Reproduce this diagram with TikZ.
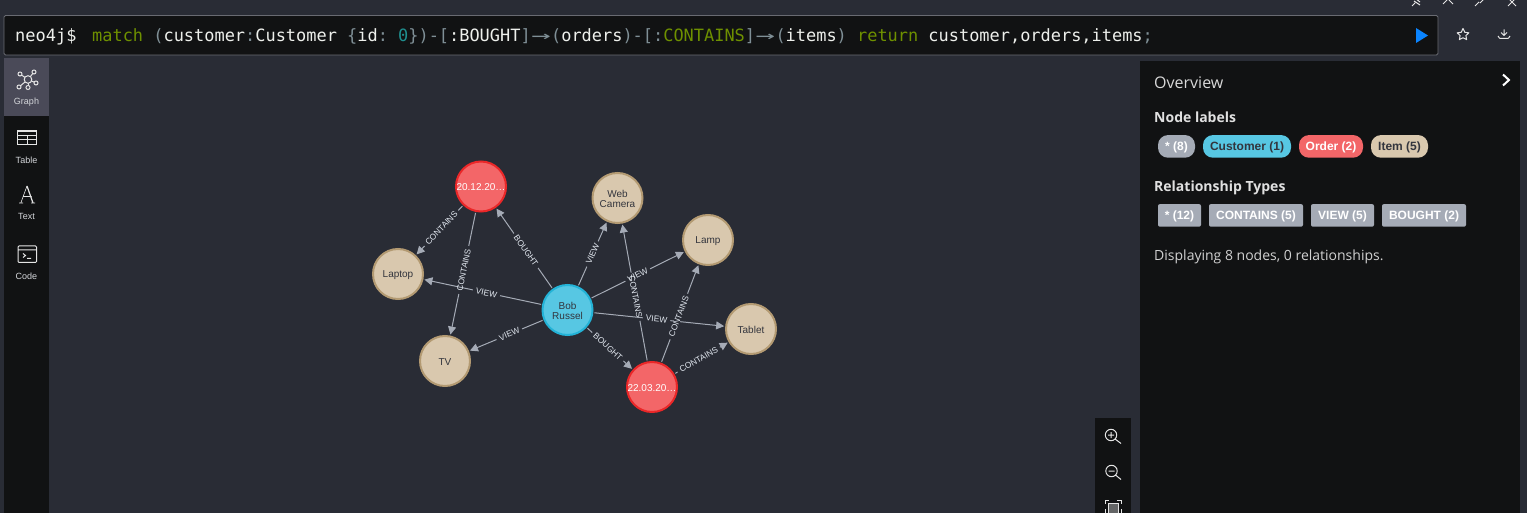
\documentclass[tikz,border=0pt]{standalone}
\usepackage{fontspec}
\setmainfont{Liberation Sans}
\newfontfamily\opensans{Open Sans}
\newfontfamily\qmono{DejaVu Sans Mono}
\usetikzlibrary{arrows.meta,calc}
\definecolor{bgc}{HTML}{292C35}
\definecolor{panel}{HTML}{111213}
\definecolor{edgec}{HTML}{A5ABB6}
\definecolor{labc}{HTML}{E2E8F0}
\definecolor{itemf}{HTML}{D9C8AE}
\definecolor{items}{HTML}{B39A72}
\definecolor{custf}{HTML}{57C7E3}
\definecolor{custs}{HTML}{23B3D7}
\definecolor{ordf}{HTML}{F36668}
\definecolor{ords}{HTML}{EB2728}
\definecolor{ink}{HTML}{33353D}
\definecolor{qgreen}{HTML}{6E9000}
\definecolor{qgrey}{HTML}{7F8F96}
\definecolor{qteal}{HTML}{1F8F8F}
\definecolor{qwhite}{HTML}{EEF0EC}
\definecolor{btn}{HTML}{4A4A58}
\definecolor{tagg}{HTML}{A5ABB6}
\definecolor{side}{HTML}{D4D6DA}
\newcommand{\qarrow}{\makebox[2\fontcharwd\font`m][c]{\scalebox{1.9}[1]{→}}}
\newcommand{\lift}[2][1.3pt]{\raisebox{-#1}[\height][\depth]{#2}}
\tikzset{
  gnode/.style={circle,minimum size=50pt,inner sep=0pt,outer sep=0pt,line width=2pt,draw,font=\fontsize{10}{10}\selectfont,align=center},
  itemnode/.style={gnode,fill=itemf,draw=items,text=ink},
  custnode/.style={gnode,fill=custf,draw=custs,text=ink},
  ordnode/.style={gnode,fill=ordf,draw=ords,text=white},
  rel/.style={draw=edgec,line width=1pt,-{Triangle[length=8pt,width=8pt]},shorten >=2pt,shorten <=2pt},
  relgap/.style={sloped,fill=bgc,inner xsep=3pt,inner ysep=0pt,font=\fontsize{8.4}{8.4}\selectfont},
  rellab/.style={sloped,text=labc,inner sep=0pt,font=\fontsize{8.4}{8.4}\selectfont},
  sidelab/.style={text=side,font=\fontsize{9}{9}\selectfont},
  ico/.style={draw=white!90!black,line width=1pt,fill=none},
  pill/.style={rounded corners=10pt,minimum height=22.7pt,inner sep=0pt,font=\fontsize{12}{12}\bfseries\selectfont},
  tag/.style={rounded corners=2pt,fill=tagg,text=white,minimum height=22.7pt,inner sep=0pt,font=\fontsize{12}{12}\bfseries\selectfont},
  head/.style={anchor=base west,inner sep=0pt,text=white!88!black,font=\opensans\fontsize{14}{14}\bfseries\selectfont},
}
\begin{document}
\begin{tikzpicture}[x=1pt,y=-1pt]
\useasboundingbox (0,0) rectangle (1527,513);
\fill[bgc] (0,0) rectangle (1527,513);
% query bar
\path[fill=panel,draw=bgc!70!white,line width=0.8pt,rounded corners=1.5pt] (4,15.5) rectangle (1438,55);
\node[anchor=base west,inner sep=0pt,text=qwhite,font=\qmono\fontsize{17}{17}\selectfont] (prompt) at (15,42) {neo4j\$};
\node[anchor=base west,inner sep=0pt,text=qwhite,font=\qmono\fontsize{16.94}{17}\selectfont] (query) at (92,42) {\frenchspacing\textcolor{qgreen}{match} \textcolor{qgrey}{(}customer\textcolor{qgrey}{:}Customer \textcolor{qgrey}{\{}id\textcolor{qgrey}{:} \textcolor{qteal}{0}\textcolor{qgrey}{\})-[}:BOUGHT\textcolor{qgrey}{]\qarrow(}orders\textcolor{qgrey}{)-[:}\textcolor{qgreen}{CONTAINS}\textcolor{qgrey}{]\qarrow(}items\textcolor{qgrey}{)} \textcolor{qgreen}{return} customer,orders,items\textcolor{qgrey}{;}};
\fill[fill={rgb,255:red,10;green,132;blue,255}] (1416,28) -- (1428,35.5) -- (1416,43) -- cycle;
% star + download
\draw[ico,line join=round] (1463,28.5) -- (1464.8,32.3) -- (1468.8,32.8) -- (1465.9,35.6) -- (1466.6,39.6) -- (1463,37.7) -- (1459.4,39.6) -- (1460.1,35.6) -- (1457.2,32.8) -- (1461.2,32.3) -- cycle;
\draw[ico] (1504,29.5) -- (1504,35) (1501,32.5) -- (1504,35.5) -- (1507,32.5) (1498,36) .. controls (1498,38.5) and (1500,38.5) .. (1504,38.5) .. controls (1508,38.5) and (1510,38.5) .. (1510,36);
% top window icons
\draw[ico] (1412,6) -- (1415,3) (1414,1) -- (1420,5) (1416,-1) -- (1420,2);
\draw[ico] (1443,4) -- (1448,-1) -- (1453,4);
\draw[ico] (1475,6) -- (1479,2) (1480,3) -- (1484,-1);
\draw[ico] (1508,6) -- (1516,-2) (1508,-2) -- (1516,6);
% sidebar
\fill[panel] (4,58) rectangle (49,513);
\fill[btn] (4,58) rectangle (49,116);
\coordinate (gc) at (28,79.5);
\foreach \px/\py in {20/74,34/72,19/87,28/87.5,36/83}{
  \draw[ico] (gc) -- (\px,\py);
  \draw[ico,fill=btn] (\px,\py) circle (2);
}
\draw[ico,fill=btn] (gc) circle (3.8);
\node[sidelab] (lgraph) at (26.5,102.5) {Graph};
\draw[ico] (17.5,131) rectangle (36.5,145) (17.5,135.5) -- (36.5,135.5) (17.5,140) -- (36.5,140) (27,135.5) -- (27,145);
\draw[ico,line width=1.4pt] (17.5,131) -- (36.5,131);
\node[sidelab] (ltable) at (26.5,160) {Table};
\draw[white!90!black,line width=0.6pt] (20.8,203) -- (27,186) (23,196.5) -- (31.5,196.5) (19,203) -- (23,203) (31,203) -- (35,203);
\draw[white!90!black,line width=1.2pt] (27,186) -- (33,203);
\node[sidelab] (ltext) at (26.5,216) {Text};
\draw[ico,rounded corners=1pt] (18,246) rectangle (36.5,262.5) (18,250) -- (36.5,250);
\draw[ico] (23,253.5) -- (25.5,255.5) -- (23,257.5) (27,258.5) -- (31,258.5);
\node[sidelab] (lcode) at (26.5,276) {Code};
% right panel
\fill[panel] (1140,61) rectangle (1520,513);
\node[anchor=base west,inner sep=0pt,text=white!85!black,font=\opensans\fontsize{16}{16}\selectfont] (ov) at (1154,89) {Overview};
\draw[draw=white,line width=2pt] (1503,74.5) -- (1509,80) -- (1503,85.5);
\node[head] (nl) at (1154,123) {Node labels};
\node[pill,fill=tagg,text=white,minimum width=37pt] (p1) at (1176.5,146.4) {\lift[0.8pt]{* (8)}};
\node[pill,fill=custf,text=ink,minimum width=88pt] (p2) at (1247,146.4) {\lift[0.8pt]{Customer (1)}};
\node[pill,fill=ordf,text=white,minimum width=64pt] (p3) at (1331,146.4) {\lift[0.8pt]{Order (2)}};
\node[pill,fill=itemf,text=ink,minimum width=57pt] (p4) at (1399.5,146.4) {\lift[0.8pt]{Item (5)}};
\node[head] (rt) at (1154,192) {Relationship Types};
\node[tag,minimum width=43pt] (t1) at (1179.5,215.4) {\lift[0.8pt]{* (12)}};
\node[tag,minimum width=94pt] (t2) at (1256,215.4) {\lift[0.8pt]{CONTAINS (5)}};
\node[tag,minimum width=63pt] (t3) at (1342.5,215.4) {\lift[0.8pt]{VIEW (5)}};
\node[tag,minimum width=84pt] (t4) at (1424,215.4) {\lift[0.8pt]{BOUGHT (2)}};
\node[anchor=base west,inner sep=0pt,text=white!82!black,font=\opensans\fontsize{14}{14}\selectfont] (disp) at (1154,261) {Displaying 8 nodes, 0 relationships.};
% zoom toolbar
\fill[panel] (1095,418) rectangle (1131,513);
\draw[ico] (1111,435) circle (5.7) (1115,439) -- (1121,443.5) (1108,435) -- (1114,435) (1111,432) -- (1111,438);
\draw[ico] (1111.5,471) circle (5.7) (1115.5,475) -- (1121,479.5) (1108.5,471) -- (1114.5,471);
\draw[ico] (1105,504) -- (1105,500) -- (1109,500) (1117,500) -- (1121,500) -- (1121,504) (1105,509) -- (1105,514) (1121,509) -- (1121,514);
\draw[ico,fill=white!35!panel] (1108,503) rectangle (1118,515);
% graph nodes
\node[ordnode] (o1) at (481,186.5) {\lift[0.8pt]{20.12.20…}};
\node[itemnode] (web) at (617.5,198) {\lift[0.8pt]{Web}\\\lift[0.8pt]{Camera}};
\node[itemnode] (lamp) at (708,240) {\lift{Lamp}};
\node[itemnode] (lap) at (398,274) {\lift{Laptop}};
\node[custnode] (bob) at (567.5,310) {\lift[0.5pt]{Bob}\\\lift[0.5pt]{Russel}};
\node[itemnode] (tab) at (751,329) {\lift{Tablet}};
\node[itemnode] (tv) at (445,361) {\lift{TV}};
\node[ordnode] (o2) at (652,387) {\lift[0.8pt]{22.03.20…}};
% relationships: line with gap
\draw[rel] (o1) -- node[relgap,pos=.46] (g1) {\phantom{CONTAINS}} (lap);
\draw[rel] (o1) -- node[relgap,pos=.47] (g2) {\phantom{CONTAINS}} (tv);
\draw[rel] (bob) -- node[relgap,pos=.47] (g3) {\phantom{BOUGHT}} (o1);
\draw[rel] (bob) -- node[relgap,pos=.47] (g4) {\phantom{VIEW}} (lap);
\draw[rel] (bob) -- node[relgap,pos=.46] (g5) {\phantom{VIEW}} (tv);
\draw[rel] (bob) -- node[relgap,pos=.5] (g6) {\phantom{VIEW}} (web);
\draw[rel] (bob) -- node[relgap,pos=.5] (g7) {\phantom{VIEW}} (lamp);
\draw[rel] (o2) -- node[relgap,pos=.47] (g8) {\phantom{CONTAINS}} (web);
\draw[rel] (bob) -- node[relgap,pos=.48] (g9) {\phantom{VIEW}} (tab);
\draw[rel] (bob) -- node[relgap,pos=.46] (g10) {\phantom{BOUGHT}} (o2);
\draw[rel] (o2) -- node[relgap,pos=.47] (g11) {\phantom{CONTAINS}} (lamp);
\draw[rel] (o2) -- node[relgap,pos=.45] (g12) {\phantom{CONTAINS}} (tab);
% relationship labels
\path (o1) -- node[rellab,pos=.46] (l1) {CONTAINS} (lap);
\path (o1) -- node[rellab,pos=.47] (l2) {CONTAINS} (tv);
\path (bob) -- node[rellab,pos=.47] (l3) {BOUGHT} (o1);
\path (bob) -- node[rellab,pos=.47] (l4) {VIEW} (lap);
\path (bob) -- node[rellab,pos=.46] (l5) {VIEW} (tv);
\path (bob) -- node[rellab,pos=.5] (l6) {VIEW} (web);
\path (bob) -- node[rellab,pos=.5] (l7) {VIEW} (lamp);
\path (o2) -- node[rellab,pos=.47] (l8) {CONTAINS} (web);
\path (bob) -- node[rellab,pos=.48] (l9) {VIEW} (tab);
\path (bob) -- node[rellab,pos=.46] (l10) {BOUGHT} (o2);
\path (o2) -- node[rellab,pos=.47] (l11) {CONTAINS} (lamp);
\path (o2) -- node[rellab,pos=.45] (l12) {CONTAINS} (tab);
\end{tikzpicture}
\end{document}
